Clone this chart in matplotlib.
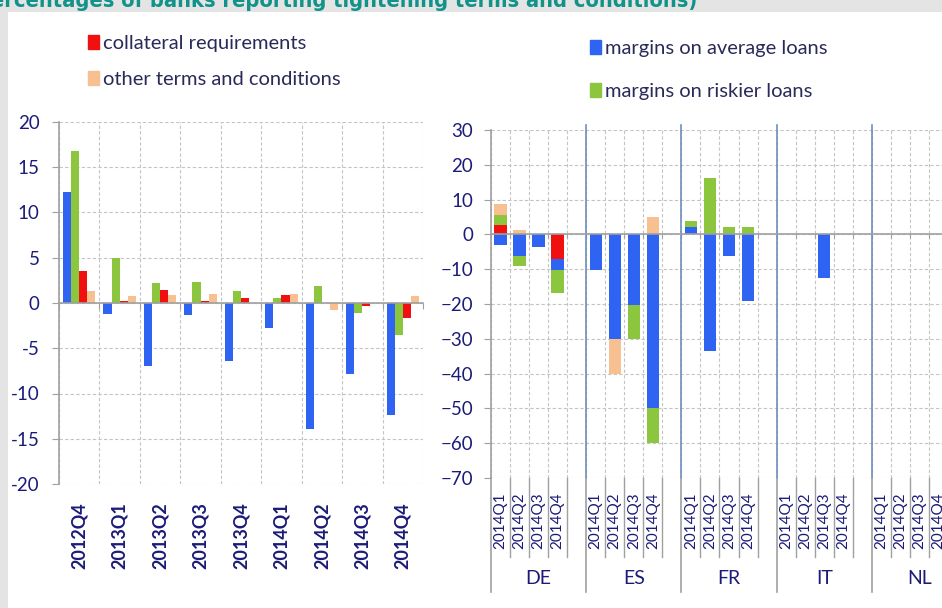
import matplotlib
matplotlib.use("Agg")
import matplotlib.pyplot as plt
import matplotlib.transforms as mtrans
from matplotlib.patches import Rectangle, Patch
import numpy as np

# ---------------- data ----------------
quarters = ['2012Q4', '2013Q1', '2013Q2', '2013Q3', '2013Q4',
            '2014Q1', '2014Q2', '2014Q3', '2014Q4']
avg_loans = [12.3, -1.2, -7.0, -1.35, -6.4, -2.8, -13.9, -7.9, -12.4]
risky_loans = [16.8, 5.0, 2.2, 2.3, 1.3, 0.6, 1.9, -1.05, -3.5]
collateral = [3.5, 0.2, 1.45, 0.2, 0.6, 0.9, 0.0, -0.35, -1.7]
other_terms = [1.35, 0.75, 0.9, 1.0, 0.0, 1.0, -0.8, 0.0, 0.75]

countries = ['DE', 'ES', 'FR', 'IT', 'NL']
country_quarters = ['2014Q1', '2014Q2', '2014Q3', '2014Q4']
# values per country (DE, ES, FR, IT, NL), each 4 quarters
c_collateral = [[2.8, 0.0, 0.0, -7.0], [0, 0, 0, 0], [0, 0, 0, 0], [0, 0, 0, 0], [0, 0, 0, 0]]
c_avg_loans = [[-3.1, -6.2, -3.5, -3.3], [-10.2, -30.2, -20.2, -50.0],
               [2.0, -33.5, -6.1, -19.2], [0, 0, -12.4, 0], [0, 0, 0, 0]]
c_risky_loans = [[2.9, -2.8, 0.0, -6.6], [0, 0, -9.8, -10.0],
                 [1.9, 16.2, 2.0, 2.0], [0, 0, 0, 0], [0, 0, 0, 0]]
c_other_terms = [[2.9, 1.2, 0.0, 0.0], [0, -9.8, 0, 4.9], [0, 0, 0, 0], [0, 0, 0, 0], [0, 0, 0, 0]]

labels = {'col': 'collateral requirements', 'oth': 'other terms and conditions',
          'avg': 'margins on average loans', 'risk': 'margins on riskier loans'}
title = '(percentages of banks reporting tightening terms and conditions)'

# ---------------- style ----------------
BLUE = '#2f63f2'
GREEN = '#8cc63e'
RED = '#f01010'
PEACH = '#f8bf90'
NAVY = '#1c1c78'
LEGTXT = '#2a2a58'
GRID = '#c4c4c4'
SPINE = '#a0a0a0'
SEP = '#6f8dbd'

plt.rcParams['font.family'] = ['Lato', 'DejaVu Sans']

W, H = 942, 608
fig = plt.figure(figsize=(W / 100, H / 100), dpi=100, facecolor='#e4e4e4')
fig.patches.append(Rectangle((8 / W, 0), 1, (H - 12) / H, transform=fig.transFigure,
                             facecolor='white', edgecolor='none', zorder=-5))

t = fig.text(697 / W, 1 - 7 / H, title,
             ha='right', va='baseline', fontsize=17, fontweight='bold', color='#11938a',
             family=['DejaVu Sans'], fontstretch='condensed')
renderer = fig.canvas.get_renderer()
wpx = t.get_window_extent(renderer).width
t.set_fontsize(17 * 731 / wpx)

# ---------------- left chart ----------------
axL = fig.add_axes([59 / W, 1 - 484 / H, 364 / W, 362 / H])
axL.set_facecolor('none')
n = len(quarters)
x = np.arange(n)
series_left = [(avg_loans, BLUE), (risky_loans, GREEN), (collateral, RED), (other_terms, PEACH)]
bw = 0.2
for j, (vals, col) in enumerate(series_left):
    axL.bar(x + 0.2 + j * bw, vals, width=bw, color=col, zorder=3)

axL.set_xlim(0, n)
axL.set_ylim(-20, 20)
axL.set_yticks(np.arange(-20, 21, 5))
axL.set_xticks(np.arange(0, n + 1))
axL.set_xticklabels([])
axL.grid(True, color=GRID, linestyle=(0, (3, 2)), linewidth=0.8, zorder=0)
for s in ['top', 'right']:
    axL.spines[s].set_visible(False)
axL.spines['left'].set_color(SPINE)
axL.spines['left'].set_linewidth(1.2)
axL.spines['bottom'].set_position(('data', 0))
axL.spines['bottom'].set_color(SPINE)
axL.spines['bottom'].set_linewidth(1.2)
axL.spines['bottom'].set_zorder(4)
axL.tick_params(axis='y', colors=SPINE, length=5, width=0.8, labelcolor=NAVY,
                labelsize=13.5, pad=9)
axL.tick_params(axis='x', colors=SPINE, length=4, width=0.8, direction='out')
axL.set_yticklabels([str(v) for v in range(-20, 21, 5)])

secL = axL.secondary_xaxis(0)
secL.set_xticks(x + 0.5)
secL.set_xticklabels(quarters, rotation=90, fontsize=13, color=NAVY, fontweight='bold')
secL.tick_params(length=0, pad=13)
secL.spines['bottom'].set_visible(False)

# ---------------- right chart ----------------
axR = fig.add_axes([491 / W, 1 - 478 / H, 476 / W, 348 / H])
axR.set_facecolor('none')
nc = len(countries)
slots = 5
xs = []
for c in range(nc):
    for q in range(4):
        xs.append(c * slots + q + 0.5)
xs = np.array(xs)

def flat(a):
    return np.array([v for row in a for v in row], dtype=float)

pos = np.zeros(len(xs))
neg = np.zeros(len(xs))
for vals, col in [(c_collateral, RED), (c_avg_loans, BLUE), (c_risky_loans, GREEN), (c_other_terms, PEACH)]:
    v = flat(vals)
    bottom = np.where(v >= 0, pos, neg)
    axR.bar(xs, v, bottom=bottom, width=0.65, color=col, zorder=3)
    pos = np.where(v >= 0, pos + v, pos)
    neg = np.where(v < 0, neg + v, neg)

axR.set_xlim(0, nc * slots)
axR.set_ylim(-70, 30)
axR.set_yticks(np.arange(-70, 31, 10))
axR.set_xticks(np.arange(0, nc * slots + 1))
axR.set_xticklabels([])
axR.grid(True, color=GRID, linestyle=(0, (3, 2)), linewidth=0.8, zorder=0)
for s in ['top', 'right']:
    axR.spines[s].set_visible(False)
axR.spines['left'].set_color(SPINE)
axR.spines['left'].set_linewidth(1.2)
axR.spines['bottom'].set_position(('data', 0))
axR.spines['bottom'].set_color(SPINE)
axR.spines['bottom'].set_linewidth(1.2)
axR.spines['bottom'].set_zorder(4)
axR.tick_params(axis='y', colors=SPINE, length=5, width=0.8, labelcolor=NAVY,
                labelsize=13.5, pad=8)
axR.tick_params(axis='x', colors=SPINE, length=3, width=0.8, direction='out')

secR = axR.secondary_xaxis(0)
secR.set_xticks(xs)
secR.set_xticklabels(country_quarters * nc, rotation=90, fontsize=11, color=NAVY)
secR.tick_params(length=0, pad=10)
secR.spines['bottom'].set_visible(False)

trR = mtrans.blended_transform_factory(axR.transData, axR.transAxes)
for b in range(0, nc * slots + 1):
    if b % slots == 0:
        if b > 0:
            axR.plot([b, b], [0, 1.014], transform=trR, color=SEP, lw=1.2,
                     clip_on=False, zorder=2)
        axR.plot([b, b], [0, -0.328], transform=trR, color=SPINE, lw=1.2, clip_on=False)
    else:
        axR.plot([b, b], [0, -0.227], transform=trR, color=SPINE, lw=1.0, clip_on=False)
for c, name in enumerate(countries):
    axR.text(c * slots + 2.5, -0.29, name, transform=trR, ha='center', va='center',
             fontsize=14, color=NAVY)

# ---------------- legends ----------------
legkw = dict(frameon=False, handlelength=0.55, handleheight=0.7, handletextpad=0.2,
             borderpad=0, borderaxespad=0, fontsize=14.5, labelcolor=LEGTXT)
fig.legend(handles=[Patch(color=RED, label=labels['col']), Patch(color=PEACH, label=labels['oth'])],
           loc='upper left', bbox_to_anchor=(88 / W, 1 - 35 / H), labelspacing=0.93, **legkw)
fig.legend(handles=[Patch(color=BLUE, label=labels['avg']), Patch(color=GREEN, label=labels['risk'])],
           loc='upper left', bbox_to_anchor=(590 / W, 1 - 40 / H), labelspacing=1.27, **legkw)

fig.savefig('out.png', dpi=100, facecolor=fig.get_facecolor())
